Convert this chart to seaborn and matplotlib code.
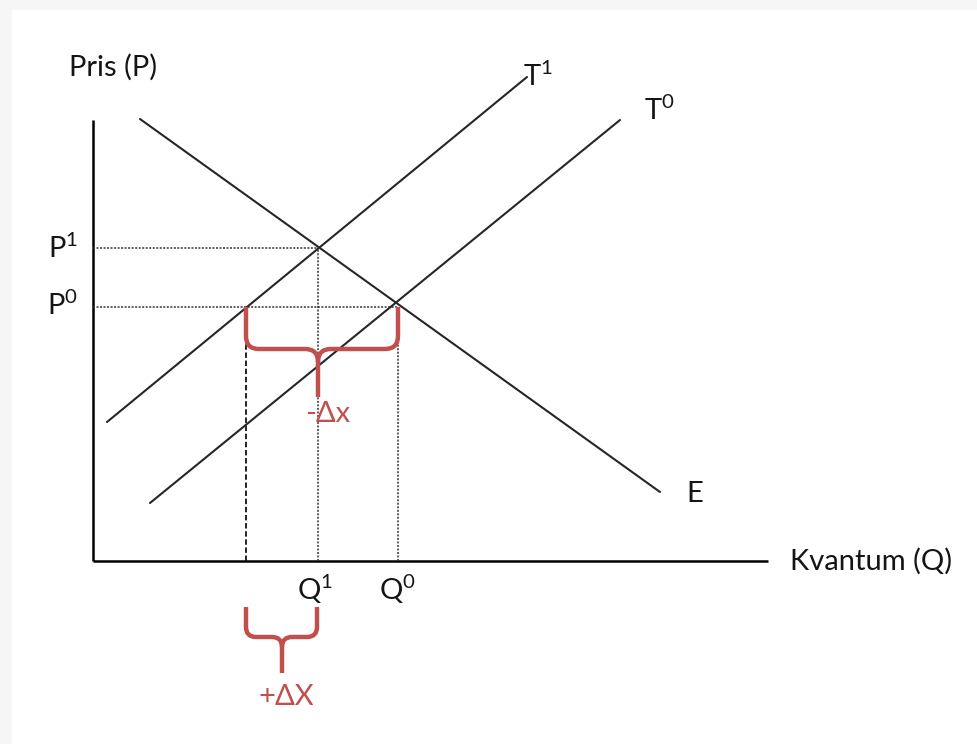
import numpy as np
import matplotlib
matplotlib.use("Agg")
import matplotlib.pyplot as plt
import seaborn as sns
from matplotlib.path import Path
from matplotlib.patches import PathPatch, Rectangle

# diagram data (Q, P), 1 unit ~ 10 px
E_q = [4.7, 56.7]
E_p = [44.2, 6.9]
T1_q = [1.4, 43.4]
T1_p = [13.9, 48.4]
T0_q = [5.7, 52.7]
T0_p = [5.8, 44.1]

Q_levels = [15.3, 22.5, 30.5]   # Q', Q1, Q0
P_levels = [25.4, 31.3]         # P0, P1
axis_q_max = 67.5
axis_p_max = 44.1

sns.set_theme(style="white")
plt.rcParams["font.family"] = ["Lato", "DejaVu Sans"]
plt.rcParams["mathtext.fontset"] = "custom"
plt.rcParams["mathtext.rm"] = "Lato"
plt.rcParams["mathtext.it"] = "Lato:italic"

txt = "#151515"
red = "#c0504d"
ink = "#262626"

fig = plt.figure(figsize=(9.78, 7.44), dpi=100, facecolor="#f6f6f6")
bg = fig.add_axes([12 / 978, 0, 1 - 12 / 978, 1 - 10 / 744], zorder=-5)
bg.axis("off")
bg.add_patch(Rectangle((0, 0), 1, 1, transform=bg.transAxes, facecolor="white", edgecolor="none"))

ax = fig.add_axes([0, 0, 1, 1])
ax.set_xlim(-9.3, 88.5)
ax.set_ylim(-18.3, 56.1)
ax.axis("off")
ax.patch.set_alpha(0)

# axes of the diagram
ax.plot([0, 0], [0, axis_p_max], color="black", lw=1.8, solid_capstyle="butt")
ax.plot([0, axis_q_max], [0, 0], color="black", lw=1.8, solid_capstyle="butt")

# guides
q_dash, q1, q0 = Q_levels
p0, p1 = P_levels
dot = (0, (1.3, 1.0))
ax.hlines(p1, 0, q1, color="#333333", lw=1.1, linestyle=dot)
ax.hlines(p0, 0, q0, color="#333333", lw=1.1, linestyle=dot)
ax.vlines(q1, 0, p1, color="#333333", lw=1.1, linestyle=dot)
ax.vlines(q0, 0, p0, color="#333333", lw=1.1, linestyle=dot)
ax.vlines(q_dash, 0, p0, color="#111111", lw=1.3, linestyle=(0, (3, 1.5)))

# supply / demand curves
for qq, pp in [(E_q, E_p), (T1_q, T1_p), (T0_q, T0_p)]:
    sns.lineplot(x=qq, y=pp, ax=ax, color=ink, lw=1.5, sort=False, estimator=None)


def brace(left, right, mid, top, bar, tip, r):
    verts = [(left, top), (left, bar + r), (left, bar), (left + r, bar),
             (mid - r, bar), (mid, bar), (mid, bar - r), (mid, tip),
             (right, top), (right, bar + r), (right, bar), (right - r, bar),
             (mid + r, bar), (mid, bar), (mid, bar - r)]
    codes = [Path.MOVETO, Path.LINETO, Path.CURVE3, Path.CURVE3,
             Path.LINETO, Path.CURVE3, Path.CURVE3, Path.LINETO,
             Path.MOVETO, Path.LINETO, Path.CURVE3, Path.CURVE3,
             Path.LINETO, Path.CURVE3, Path.CURVE3]
    ax.add_patch(PathPatch(Path(verts, codes), fill=False, edgecolor=red, lw=3.2,
                           capstyle="butt", joinstyle="round", zorder=4))


brace(q_dash, q0, q1, p0, 21.2, 16.4, 1.3)
brace(q_dash, q1 - 0.1, (q_dash + q1) / 2, -4.6, -7.6, -11.2, 1.0)

fs = 21
ax.text(-2.4, 49.4, "Pris (P)", fontsize=fs, color=txt, ha="left", va="center")
ax.text(69.7, 0, "Kvantum (Q)", fontsize=fs, color=txt, ha="left", va="center")
ax.text(-1.5, p1, r"$\mathregular{P^{1}}$", fontsize=fs, color=txt, ha="right", va="center")
ax.text(-1.5, p0 + 0.2, r"$\mathregular{P^{0}}$", fontsize=fs, color=txt, ha="right", va="center")
ax.text(q1 - 0.3, -2.8, r"$\mathregular{Q^{1}}$", fontsize=fs, color=txt, ha="center", va="center")
ax.text(q0 - 0.1, -2.8, r"$\mathregular{Q^{0}}$", fontsize=fs, color=txt, ha="center", va="center")
ax.text(43.0, 48.5, r"$\mathregular{T^{1}}$", fontsize=fs, color=txt, ha="left", va="center")
ax.text(55.1, 45.1, r"$\mathregular{T^{0}}$", fontsize=fs, color=txt, ha="left", va="center")
ax.text(59.3, 6.7, "E", fontsize=fs, color=txt, ha="left", va="center")
ax.text(23.5, 14.7, "-Δx", fontsize=fs, color=red, ha="center", va="center")
ax.text(19.3, -13.6, "+ΔX", fontsize=fs, color=red, ha="center", va="center")

fig.savefig("out.png", dpi=100, facecolor=fig.get_facecolor())
